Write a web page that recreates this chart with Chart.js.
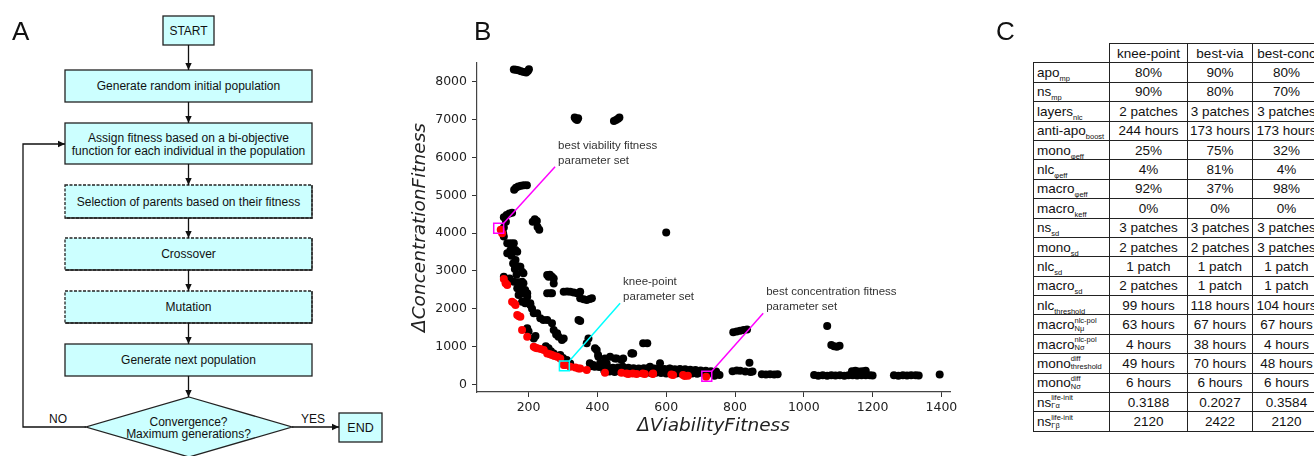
<!DOCTYPE html>
<html>
<head>
<meta charset="utf-8">
<script src="https://cdn.jsdelivr.net/npm/chart.js@4.4.0/dist/chart.umd.min.js"></script>
<style>
body{margin:0;width:1314px;height:456px;overflow:hidden;background:#fff;position:relative;font-family:"Liberation Sans",Arial,sans-serif;}
#flow{position:absolute;left:0;top:0;}
#chart{position:absolute;left:400px;top:0;}
#letters{position:absolute;left:0;top:0;pointer-events:none;}
#tblwrap{position:absolute;left:1033px;top:43px;width:281px;height:413px;overflow:hidden;}
table{border-collapse:collapse;font-size:13.5px;color:#111;table-layout:fixed;width:287px;}
tr{height:19.4px;}
td{border:1px solid #222;padding:0;text-align:center;white-space:nowrap;line-height:17px;overflow:hidden;}
td.h{text-align:left;padding-left:3px;}
td.empty{border-top:none;border-left:none;}
sub{font-size:7.5px;vertical-align:-4px;line-height:0;color:#111;}
.ss{display:inline-block;vertical-align:middle;font-size:7.5px;line-height:8px;text-align:left;margin-top:-2px;color:#111;}
.ss span{display:block;}
</style>
</head>
<body>
<svg id="flow" width="400" height="456" font-family="Liberation Sans, Arial, sans-serif" font-size="12" fill="#111">
  <defs>
    <marker id="ah" markerWidth="8" markerHeight="8" refX="7" refY="4" orient="auto" markerUnits="userSpaceOnUse">
      <path d="M0,0.8 L7,4 L0,7.2 z" fill="#111"/>
    </marker>
  </defs>
  <g fill="#ccffff" stroke="#222" stroke-width="1.3">
    <rect x="163" y="16" width="51" height="29"/>
    <rect x="65" y="70" width="247" height="32"/>
    <rect x="65" y="123" width="247" height="41"/>
    <rect x="65" y="185" width="247" height="33" stroke-dasharray="3 1.5"/>
    <rect x="65" y="238" width="247" height="32" stroke-dasharray="3 1.5"/>
    <rect x="65" y="291" width="247" height="32" stroke-dasharray="3 1.5"/>
    <rect x="65" y="344" width="247" height="32"/>
    <polygon points="189,397 292,427 189,457 86,427"/>
    <rect x="339" y="413" width="43" height="29"/>
  </g>
  <g stroke="#222" stroke-width="1.3">
    <path d="M312,185 V218 H65 M312,238 V270 H65 M312,291 V323 H65" fill="none"/>
  </g>
  <g stroke="#111" stroke-width="1.3" fill="none" marker-end="url(#ah)">
    <line x1="188.5" y1="45" x2="188.5" y2="70"/>
    <line x1="188.5" y1="102" x2="188.5" y2="123"/>
    <line x1="188.5" y1="164" x2="188.5" y2="185"/>
    <line x1="188.5" y1="218" x2="188.5" y2="238"/>
    <line x1="188.5" y1="270" x2="188.5" y2="291"/>
    <line x1="188.5" y1="323" x2="188.5" y2="344"/>
    <line x1="188.5" y1="376" x2="188.5" y2="397"/>
    <polyline points="86,427 23,427 23,144 65,144"/>
    <line x1="292" y1="427" x2="339" y2="427"/>
  </g>
  <g text-anchor="middle">
    <text x="188.5" y="35">START</text>
    <text x="188.5" y="90">Generate random initial population</text>
    <text x="188.5" y="142">Assign fitness based on a bi-objective</text>
    <text x="188.5" y="155">function for each individual in the population</text>
    <text x="188.5" y="206">Selection of parents based on their fitness</text>
    <text x="188.5" y="258">Crossover</text>
    <text x="188.5" y="311">Mutation</text>
    <text x="188.5" y="364">Generate next population</text>
    <text x="188.5" y="426">Convergence?</text>
    <text x="188.5" y="438">Maximum generations?</text>
    <text x="58" y="423">NO</text>
    <text x="313" y="423">YES</text>
    <text x="360.5" y="432" font-size="12.5">END</text>
  </g>
</svg>

<canvas id="chart" width="600" height="456" style="width:600px;height:456px"></canvas>

<div id="tblwrap"><table id="tbl"></table></div>

<svg id="letters" width="1314" height="456" font-family="Liberation Sans, Arial, sans-serif" font-size="26" fill="#111">
  <text x="12" y="40">A</text>
  <text x="474" y="40">B</text>
  <text x="996" y="40">C</text>
</svg>

<script>
// axis ticks
const xTicks = [200, 400, 600, 800, 1000, 1200, 1400];
const yTicks = [0, 1000, 2000, 3000, 4000, 5000, 6000, 7000, 8000];

// all evaluated parameter sets [viability, concentration]
const blackPts = [
  [157,8330],[163,8320],[170,8305],[178,8285],[186,8262],[193,8250],[198,8290],[201,8335],
  [334,7060],[337,7020],[341,6990],[344,7040],
  [448,6965],[454,6990],[460,7025],[464,7060],
  [158,5150],[163,5200],[170,5235],[178,5255],[186,5265],[195,5270],
  [600,4020],
  [212,4300],[218,4370],[224,4320],[226,4160],[231,4090],
  [128,4420],[136,4480],[144,4520],[152,4540],[134,4300],[128,4150],[126,4000],[128,3910],
  [138,3735],[148,3735],[157,3735],[138,3470],[147,3550],[162,3557],[167,3510],[150,3400],
  [162,3290],[155,3200],[160,3050],[171,3116],[176,3115],[181,2983],[185,2940],[165,2900],
  [128,2850],[145,2800],[157,2718],[170,2700],[181,2718],[185,2675],[167,2543],[178,2560],
  [190,2498],[171,2366],[180,2400],[196,2410],[196,2320],[181,2188],[190,2150],[205,2146],
  [205,2100],[210,2000],[215,1880],[225,1880],[234,1748],[243,1703],[254,1703],[268,1616],
  [273,1438],[283,1351],[280,1320],[287,1261],[302,1218],[297,1173],[196,1483],[200,1400],
  [215,1218],[220,1280],[250,1010],[258,954],[265,880],[273,821],[292,776],[300,700],
  [311,644],[305,600],[321,556],
  [254,2895],[258,2850],[262,2900],[268,2850],[273,2800],[273,2670],[268,2410],[263,2410],[254,2410],
  [302,2453],[312,2460],[321,2453],[331,2430],[341,2410],[350,2453],[350,2278],[360,2250],
  [369,2233],[378,2260],[384,2278],
  [345,1703],[350,1680],
  [374,1218],[369,1086],[393,954],[398,909],[402,776],[403,731],[388,511],[427,556],
  [474,466],[514,334],[456,689],[451,689],[475,689],[422,689],[499,821],[504,821],
  [533,1086],[545,1090],
  [378,559],[408,560],[437,735],[470,646],[500,823],[553,471],[582,559],[611,413],
  [380,480],[392,470],[405,460],[418,470],[430,450],[445,440],[460,450],[475,430],
  [490,440],[505,430],[520,420],[535,430],[550,440],[565,420],[580,430],[595,410],
  [610,420],[625,400],[640,410],[655,400],[670,390],[685,380],[700,370],[715,360],
  [730,350],[745,340],
  [420,360],[435,340],[450,330],[465,340],[480,320],[495,330],[510,320],[525,310],
  [540,320],[555,300],[570,310],[585,300],[600,290],[615,300],[630,290],[645,280],
  [660,300],[675,290],[690,280],[705,300],[720,290],[735,300],[748,280],[755,250],[740,230],
  [795,1380],[805,1400],[815,1420],[825,1440],[835,1450],
  [1068,1544],
  [1080,1040],[1088,1010],[1096,995],[1104,1020],
  [842,572],
  [793,350],[805,370],[815,360],[830,340],[845,330],[851,340],
  [878,270],[890,260],[902,270],[914,260],[924,270],
  [1030,250],[1042,230],[1055,240],[1068,230],[1080,240],[1092,235],[1105,240],[1118,230],
  [1130,245],[1142,240],[1155,235],[1168,240],[1180,240],[1192,245],[1200,235],
  [1140,350],[1150,360],[1160,340],[1170,350],[1180,360],
  [1262,240],[1275,230],[1288,245],[1300,235],[1312,240],[1325,240],[1334,235],
  [1395,260]
];

// pareto front
const redPts = [
  [119,4090],[123,4000],[128,2790],[133,2675],[138,2630],[152,2188],[158,2150],[162,2100],
  [167,1836],[172,1800],[176,1790],[181,1438],[196,1261],[215,996],[220,970],[225,954],
  [235,940],[244,909],[254,821],[262,800],[268,776],[275,750],[283,732],[292,689],
  [302,511],[306,511],[321,466],[336,448],[345,424],[350,424],[369,379],[422,308],
  [470,308],[485,290],[490,275],[503,290],[514,275],[532,290],[538,275],[561,275],
  [562,290],[615,260],[620,247],[649,247],[654,220],[663,230],[716,200]
];

const bestVia = [113, 4130];
const kneePt = [304, 490];
const bestConc = [718, 215];

const notes = [
  {at: bestVia, to: [277, 5757], color: '#ff00ff', text: ['best viability fitness', 'parameter set']},
  {at: kneePt, to: [466, 2145], color: '#00ffff', text: ['knee-point', 'parameter set']},
  {at: bestConc, to: [882, 1881], color: '#ff00ff', text: ['best concentration fitness', 'parameter set']}
];

// table C
const colHeads = ['knee-point', 'best-via', 'best-conc'];
const rowLabels = [
  'apo<sub>mp</sub>', 'ns<sub>mp</sub>', 'layers<sub>nlc</sub>', 'anti-apo<sub>boost</sub>',
  'mono<sub>φeff</sub>', 'nlc<sub>φeff</sub>', 'macro<sub>φeff</sub>', 'macro<sub>keff</sub>',
  'ns<sub>sd</sub>', 'mono<sub>sd</sub>', 'nlc<sub>sd</sub>', 'macro<sub>sd</sub>',
  'nlc<sub>threshold</sub>',
  'macro<span class="ss"><span>nlc-pol</span><span>Nμ</span></span>',
  'macro<span class="ss"><span>nlc-pol</span><span>Nσ</span></span>',
  'mono<span class="ss"><span>diff</span><span>threshold</span></span>',
  'mono<span class="ss"><span>diff</span><span>Nσ</span></span>',
  'ns<span class="ss"><span>life-init</span><span>Γα</span></span>',
  'ns<span class="ss"><span>life-init</span><span>Γβ</span></span>'
];
const kneeVals = ['80%','90%','2 patches','244 hours','25%','4%','92%','0%','3 patches','2 patches','1 patch','2 patches','99 hours','63 hours','4 hours','49 hours','6 hours','0.3188','2120'];
const viaVals = ['90%','80%','3 patches','173 hours','75%','81%','37%','0%','3 patches','2 patches','1 patch','1 patch','118 hours','67 hours','38 hours','70 hours','6 hours','0.2027','2422'];
const concVals = ['80%','70%','3 patches','173 hours','32%','4%','98%','0%','3 patches','3 patches','1 patch','1 patch','104 hours','67 hours','4 hours','48 hours','6 hours','0.3584','2120'];

var html = '<colgroup><col style="width:76px"><col style="width:78px"><col style="width:65px"><col style="width:68px"></colgroup>';
html += '<tr><td class="empty"></td>' + colHeads.map(h => '<td>' + h + '</td>').join('') + '</tr>';
rowLabels.forEach(function(lbl, i){
  html += '<tr><td class="h">' + lbl + '</td><td>' + kneeVals[i] + '</td><td>' + viaVals[i] + '</td><td>' + concVals[i] + '</td></tr>';
});
document.getElementById('tbl').innerHTML = html;

const notePlugin = {
  id: 'notes',
  afterDatasetsDraw: function(chart){
    var ctx = chart.ctx, xs = chart.scales.x, ys = chart.scales.y;
    ctx.save();
    notes.forEach(function(n){
      var x0 = xs.getPixelForValue(n.at[0]) + 5, y0 = ys.getPixelForValue(n.at[1]) - 5;
      var x1 = xs.getPixelForValue(n.to[0]), y1 = ys.getPixelForValue(n.to[1]);
      ctx.strokeStyle = n.color;
      ctx.lineWidth = 1.5;
      ctx.beginPath();
      ctx.moveTo(x0, y0);
      ctx.lineTo(x1, y1);
      ctx.stroke();
      ctx.fillStyle = '#333';
      ctx.font = '11.5px "Liberation Sans", Arial, sans-serif';
      ctx.textBaseline = 'middle';
      n.text.forEach(function(t, i){ ctx.fillText(t, x1 + 3, y1 - 21 + i * 15); });
    });
    ctx.restore();
  }
};

const toXY = p => ({x: p[0], y: p[1]});
const tickFont = {family: '"DejaVu Sans", sans-serif', size: 12.5};
const titleFont = {family: '"DejaVu Sans", sans-serif', size: 18.5, style: 'italic'};

new Chart(document.getElementById('chart').getContext('2d'), {
  type: 'scatter',
  data: {
    datasets: [
      {data: [toXY(bestVia)], pointStyle: 'rect', pointRadius: 7, backgroundColor: 'rgba(0,0,0,0)', borderColor: '#ff00ff', borderWidth: 1.5, order: 0},
      {data: [toXY(kneePt)], pointStyle: 'rect', pointRadius: 7, backgroundColor: 'rgba(0,0,0,0)', borderColor: '#00ffff', borderWidth: 1.5, order: 0},
      {data: [toXY(bestConc)], pointStyle: 'rect', pointRadius: 7, backgroundColor: 'rgba(0,0,0,0)', borderColor: '#ff00ff', borderWidth: 1.5, order: 0},
      {data: redPts.map(toXY), pointRadius: 4, backgroundColor: '#ff0000', borderWidth: 0, order: 1},
      {data: blackPts.map(toXY), pointRadius: 4, backgroundColor: '#000000', borderWidth: 0, order: 2}
    ]
  },
  options: {
    responsive: false,
    animation: false,
    devicePixelRatio: 1,
    layout: {padding: {top: 63, right: 50, left: 0, bottom: 0}},
    plugins: {legend: {display: false}, tooltip: {enabled: false}},
    scales: {
      x: {
        type: 'linear', min: 50, max: 1425,
        afterBuildTicks: s => { s.ticks = xTicks.map(v => ({value: v})); },
        afterFit: s => { s.height = 64; },
        ticks: {font: tickFont, color: '#222', padding: 3, maxRotation: 0, callback: v => String(v)},
        grid: {drawOnChartArea: false, drawTicks: true, tickLength: 5, color: '#333'},
        border: {display: true, color: '#444', width: 1.2},
        title: {display: true, text: 'ΔViabilityFitness', font: titleFont, color: '#222', padding: {top: 0, bottom: 19}}
      },
      y: {
        type: 'linear', min: -200, max: 8500,
        afterBuildTicks: s => { s.ticks = yTicks.map(v => ({value: v})); },
        afterFit: s => { s.width = 77; },
        ticks: {font: tickFont, color: '#222', padding: 5, callback: v => String(v)},
        grid: {drawOnChartArea: false, drawTicks: true, tickLength: 5, color: '#333'},
        border: {display: true, color: '#444', width: 1.2},
        title: {display: true, text: 'ΔConcentrationFitness', font: titleFont, color: '#222', padding: {top: 9, bottom: 0}}
      }
    }
  },
  plugins: [notePlugin]
});
</script>
</body>
</html>
